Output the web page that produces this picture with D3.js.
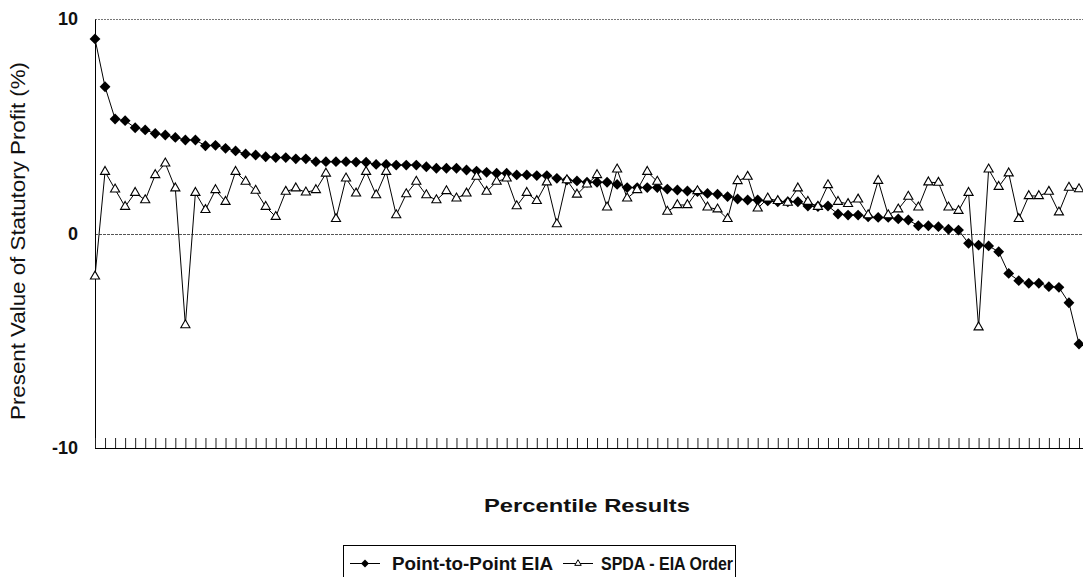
<!DOCTYPE html>
<html><head><meta charset="utf-8">
<script src="https://cdn.jsdelivr.net/npm/d3@7"></script>
<style>body{margin:0;background:#fff;}svg{display:block;font-family:"Liberation Sans",Arial,sans-serif;}</style>
</head><body><svg id="c" width="1083" height="577"></svg>
<script>
const pointToPoint = [9.07,6.84,5.34,5.26,4.93,4.83,4.66,4.59,4.48,4.36,4.36,4.09,4.11,3.97,3.85,3.71,3.66,3.58,3.54,3.54,3.48,3.48,3.35,3.35,3.35,3.35,3.33,3.32,3.22,3.22,3.19,3.19,3.19,3.11,3.04,3.04,3.04,2.96,2.91,2.85,2.81,2.81,2.73,2.73,2.70,2.70,2.57,2.49,2.45,2.39,2.39,2.39,2.29,2.14,2.14,2.14,2.14,2.07,2.03,1.98,1.95,1.87,1.83,1.72,1.61,1.56,1.56,1.52,1.48,1.48,1.48,1.28,1.26,1.28,0.91,0.86,0.86,0.78,0.75,0.75,0.68,0.63,0.36,0.36,0.32,0.20,0.16,-0.46,-0.54,-0.58,-0.85,-1.86,-2.20,-2.32,-2.32,-2.48,-2.51,-3.23,-5.15];
const spdaOrder = [-2.0,2.88,2.06,1.25,1.90,1.56,2.73,3.27,2.11,-4.27,1.90,1.10,2.03,1.48,2.88,2.42,2.00,1.25,0.78,1.95,2.11,1.92,2.03,2.80,0.68,2.57,1.87,2.88,1.79,2.88,0.86,1.84,2.42,1.79,1.56,1.98,1.64,1.87,2.65,1.95,2.42,2.57,1.28,1.90,1.52,2.39,0.44,2.49,1.82,2.29,2.73,1.22,2.99,1.64,2.03,2.88,2.42,1.02,1.33,1.33,1.98,1.22,1.13,0.68,2.45,2.65,1.17,1.64,1.52,1.44,2.11,1.48,1.25,2.26,1.48,1.38,1.59,0.86,2.46,0.86,1.13,1.72,1.22,2.39,2.37,1.22,1.06,1.90,-4.37,2.99,2.18,2.81,0.68,1.75,1.75,1.95,0.99,2.14,2.07];
const percentiles = d3.range(1, pointToPoint.length + 1);
const yTicks = [-10, 0, 10];
const seriesNames = ["Point-to-Point EIA", "SPDA - EIA Order"];
const yTitle = "Present Value of Statutory Profit (%)";
const xTitle = "Percentile Results";

const svg = d3.select("#c");
const L = 95, R = 1079, T = 19, B = 448;
const x = d3.scalePoint().domain(percentiles).range([L, R]);
const y = d3.scaleLinear().domain([-10, 10]).range([B, T]);

// plot border top / zero line (dotted)
svg.append("line").attr("x1", L).attr("x2", 1083).attr("y1", T + 0.5).attr("y2", T + 0.5)
  .attr("stroke", "#777").attr("stroke-width", 1).attr("stroke-dasharray", "2,1");
svg.append("line").attr("x1", L).attr("x2", 1083).attr("y1", Math.round(y(0)) + 0.5).attr("y2", Math.round(y(0)) + 0.5)
  .attr("stroke", "#555").attr("stroke-width", 1).attr("stroke-dasharray", "3,1");

// y axis
const ya = svg.append("g").attr("transform", `translate(${L},0)`)
  .call(d3.axisLeft(y).tickValues(yTicks).tickSize(0).tickPadding(17).tickFormat(d => String(d)));
ya.select(".domain").attr("stroke", "#000");
ya.selectAll("text").attr("font-size", 18).attr("font-weight", "bold").attr("fill", "#111")
  .attr("font-family", "Liberation Sans, Arial, sans-serif");

// x axis with inward ticks
const xa = svg.append("g").attr("transform", `translate(0,${B})`)
  .call(d3.axisBottom(x).tickSize(-10).tickFormat(""));
xa.select(".domain").attr("stroke", "#000").attr("d", `M${L},0.5H${R + 4}`);
xa.selectAll(".tick line").attr("stroke", "#222");

// lines
const line = d3.line().x((d, i) => x(percentiles[i])).y(d => y(d));
svg.append("path").datum(pointToPoint).attr("d", line).attr("fill", "none").attr("stroke", "#000").attr("stroke-width", 1);
svg.append("path").datum(spdaOrder).attr("d", line).attr("fill", "none").attr("stroke", "#000").attr("stroke-width", 1);

const diamond = d3.symbol().type(d3.symbolDiamond2).size(75);
const tri = d3.symbol().type(d3.symbolTriangle2).size(60);
svg.append("g").selectAll("path").data(pointToPoint).join("path")
  .attr("d", diamond).attr("transform", (d, i) => `translate(${x(percentiles[i])},${y(d)})`).attr("fill", "#000");
svg.append("g").selectAll("path").data(spdaOrder).join("path")
  .attr("d", tri).attr("transform", (d, i) => `translate(${x(percentiles[i])},${y(d)})`)
  .attr("fill", "#fff").attr("stroke", "#000").attr("stroke-width", 1.1);

// titles
svg.append("text").attr("transform", `translate(25,241) rotate(-90)`).attr("text-anchor", "middle")
  .attr("font-size", 20).attr("fill", "#111").attr("textLength", 358).attr("lengthAdjust", "spacingAndGlyphs").text(yTitle);
svg.append("text").attr("x", 587).attr("y", 512).attr("text-anchor", "middle")
  .attr("font-size", 19).attr("font-weight", "bold").attr("fill", "#111").attr("textLength", 206).attr("lengthAdjust", "spacingAndGlyphs").text(xTitle);

// legend
const lg = svg.append("g");
lg.append("rect").attr("x", 343.5).attr("y", 545.5).attr("width", 392).attr("height", 40)
  .attr("fill", "#fff").attr("stroke", "#000").attr("stroke-width", 1);
const items = [{x: 350, tx: 392, w: 161, fill: "#000"}, {x: 563, tx: 601, w: 132, fill: "#fff"}];
items.forEach((it, k) => {
  lg.append("line").attr("x1", it.x).attr("x2", it.x + 30).attr("y1", 563.5).attr("y2", 563.5).attr("stroke", "#000");
  lg.append("path").attr("d", k === 0 ? d3.symbol().type(d3.symbolDiamond2).size(40)() : d3.symbol().type(d3.symbolTriangle2).size(30)())
    .attr("transform", `translate(${it.x + 15},563.5)`).attr("fill", it.fill).attr("stroke", "#000").attr("stroke-width", k === 0 ? 0 : 1);
  lg.append("text").attr("x", it.tx).attr("y", 570).attr("font-size", 18).attr("font-weight", "bold")
    .attr("fill", "#111").attr("textLength", it.w).attr("lengthAdjust", "spacingAndGlyphs").text(seriesNames[k]);
});
</script></body></html>
